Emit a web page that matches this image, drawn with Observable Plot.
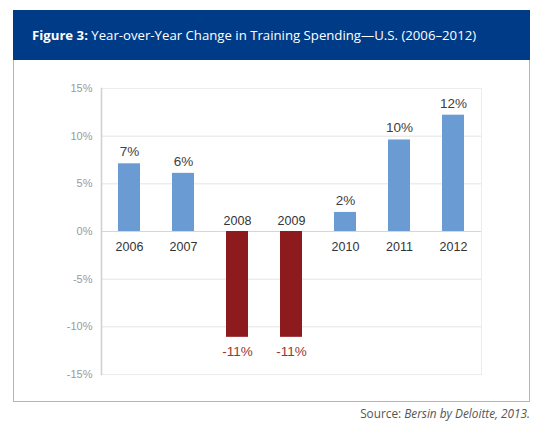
<!DOCTYPE html>
<html>
<head>
<meta charset="utf-8">
<script src="https://cdn.jsdelivr.net/npm/d3@7"></script>
<script src="https://cdn.jsdelivr.net/npm/@observablehq/plot@0.6"></script>
<style>
  html, body { margin: 0; padding: 0; background: #fff; width: 550px; height: 425px; overflow: hidden; }
  #header { position: absolute; left: 13px; top: 10px; width: 517px; height: 50px; background: #003b87; color: #fff;
    font-family: "Open Sans", sans-serif; font-size: 13.2px; line-height: 50px; box-sizing: border-box; padding-left: 19px; white-space: nowrap; }
  #header b { font-weight: 700; }
  #box { position: absolute; left: 13px; top: 60px; width: 517px; height: 342px; box-sizing: border-box;
    border: 1px solid #b5b5b5; border-top: none; }
  #chart { position: absolute; left: 14px; top: 61px; }
  #source { position: absolute; right: 20px; top: 405px; font-family: "Open Sans", sans-serif; font-size: 11.8px; color: #555; white-space: nowrap; }
</style>
</head>
<body>
<div id="header"><b>Figure 3:</b> Year-over-Year Change in Training Spending—U.S. (2006–2012)</div>
<div id="box"></div>
<div id="chart"></div>
<div id="source">Source: <i>Bersin by Deloitte, 2013.</i></div>
<script>
const years = ["2006", "2007", "2008", "2009", "2010", "2011", "2012"];
const values = [7.1, 6.1, -11.1, -11.1, 2.0, 9.6, 12.2];
const labels = ["7%", "6%", "-11%", "-11%", "2%", "10%", "12%"];
const yTicks = [-15, -10, -5, 0, 5, 10, 15];

const data = years.map((year, i) => ({year, value: values[i], label: labels[i]}));
const pos = data.filter(d => d.value >= 0);
const neg = data.filter(d => d.value < 0);

const chart = Plot.plot({
  width: 515,
  height: 339,
  marginLeft: 87,
  marginRight: 48,
  marginTop: 27,
  marginBottom: 26,
  style: {fontFamily: "'Liberation Sans', Arial, sans-serif", background: "transparent", overflow: "visible"},
  x: {domain: years, paddingInner: 0.6, paddingOuter: 0.3, axis: null},
  y: {domain: [-15, 15], axis: null},
  marks: [
    Plot.gridY(yTicks, {stroke: "#e3e3e3", strokeOpacity: 1}),
    Plot.frame({stroke: "#ececec"}),
    Plot.ruleY([0], {stroke: "#d6d6d6"}),
    Plot.frame({anchor: "left", stroke: "#cfcfcf", strokeWidth: 1.5}),
    Plot.axisY(yTicks, {label: null, tickSize: 0, tickPadding: 9, tickFormat: d => d + "%", fontSize: 11, fill: "#9a9a9a", textStroke: "none"}),
    Plot.barY(pos, {x: "year", y: "value", fill: "#6b9bd3"}),
    Plot.barY(neg, {x: "year", y: "value", fill: "#8d1a1d"}),
    Plot.text(pos, {x: "year", y: "value", text: "label", dy: -12, fontSize: 13.5, fill: "#404040"}),
    Plot.text(neg, {x: "year", y: "value", text: "label", dy: 14, fontSize: 13.5, fill: "#953735"}),
    Plot.text(pos, {x: "year", y: () => 0, text: "year", dy: 15, fontSize: 12.5, fill: "#333"}),
    Plot.text(neg, {x: "year", y: () => 0, text: "year", dy: -11, fontSize: 12.5, fill: "#333"})
  ]
});
document.getElementById("chart").appendChild(chart);
</script>
</body>
</html>
